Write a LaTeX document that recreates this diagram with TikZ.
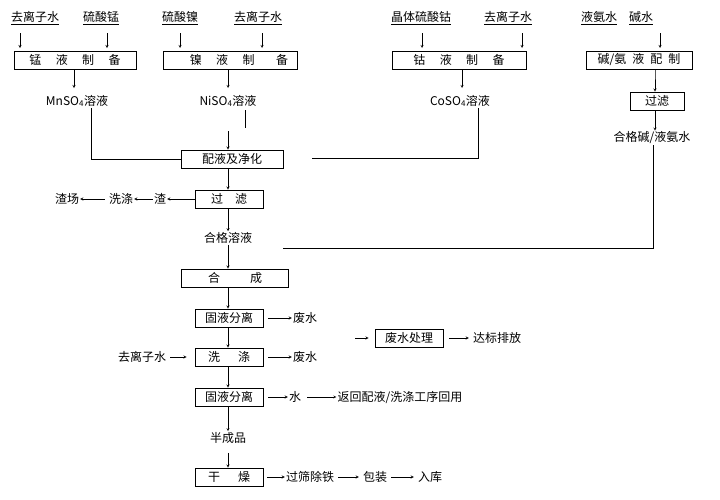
\documentclass[tikz,border=0pt]{standalone}
\usepackage{fontspec}
\setmainfont{Noto Sans CJK SC}
\usetikzlibrary{positioning}
\begin{document}
\begin{tikzpicture}[x=1pt,y=-1pt,->,>=stealth,thin,
	box node/.style={rectangle,draw,thick,minimum height=18pt,inner sep=1pt,font=\fontsize{12}{12}\selectfont},
	text node/.style={inner sep=1pt,font=\fontsize{12}{12}\selectfont},
	in node/.style={text node,underline},
	underline/.style={}]
\useasboundingbox (0,0) rectangle (720,499);

% inputs
\node[text node] (w1) at (35,18) {\underline{去离子水}};
\node[text node] (mns) at (101,18) {\underline{硫酸锰}};
\node[text node] (nis) at (180,18) {\underline{硫酸镍}};
\node[text node] (w2) at (258,18) {\underline{去离子水}};
\node[text node] (cos) at (421,18) {\underline{晶体硫酸钴}};
\node[text node] (w3) at (508,18) {\underline{去离子水}};
\node[text node] (nh) at (617,18) {\underline{液氨水}\hspace{12pt}\underline{碱水}};

% preparation
\node[box node,minimum width=122pt] (mn) at (75,60) {锰\hspace{1.2em}液\hspace{1.2em}制\hspace{1.2em}备};
\node[box node,minimum width=134pt] (ni) at (230,60) {\hspace{1.5em}镍\hspace{1.2em}液\hspace{1.2em}制\hspace{1.8em}备};
\node[box node,minimum width=134pt] (co) at (459,60) {钴\hspace{1.2em}液\hspace{1.2em}制\hspace{1.2em}备};
\node[box node,minimum width=106pt] (am) at (639,60) {碱/氨\hspace{0.5em}液\hspace{0.5em}配\hspace{0.5em}制};
\node[box node,minimum width=54pt] (af) at (657,101) {过滤};

\draw (20,33) -- (20,48);
\draw (107,33) -- (107,48);
\draw (180,33) -- (180,48);
\draw (262,33) -- (262,48);
\draw (422,33) -- (422,48);
\draw (522,33) -- (522,48);
\draw (660,33) -- (660,48);

\node[text node] (mnl) at (77,101) {MnSO\textsubscript{4}溶液};
\node[text node] (nil) at (228,101) {NiSO\textsubscript{4}溶液};
\node[text node] (col) at (460,101) {CoSO\textsubscript{4}溶液};
\node[text node] (aml) at (652,138) {合格碱/液氨水};

\draw (74,70) -- (74,88);
\draw (228,70) -- (228,88);
\draw (462,70) -- (462,88);
\draw (655,70) -- (am.south -| 655,0) -- (af.north -| 655,0);
\draw (af.south -| 655,0) -- (aml.north -| 655,0);

% mixing and filtering
\node[box node,minimum width=102pt] (mix) at (232,159) {配液及净化};
\node[box node,minimum width=68pt] (flt) at (229,199) {过\hspace{1em}滤};
\node[text node] (slag) at (160,199) {渣};
\node[text node] (wash) at (121,199) {洗涤};
\node[text node] (dump) at (67,199) {渣场};
\node[text node] (ok) at (228,238) {合格溶液};

\draw[-] (mnl.south -| 91,0) |- (mix.west);
\draw[-] (245,110) -- (245,128);
\draw (228,131) -- (mix.north -| 228,0);
\draw[-] (col.south -| 478,0) |- (312,158);
\draw (mix.south -| 228,0) -- (flt.north -| 228,0);
\draw (flt.west) -- (slag.east);
\draw (slag.west) -- (wash.east);
\draw (wash.west) ++(-3,0) -- (dump.east);
\draw (flt.south -| 228,0) -- (ok.north -| 228,0);
\draw[-] (aml.south -| 653,0) |- (283,248);

% synthesis
\node[box node,minimum width=107pt] (syn) at (235,278) {合\hspace{2.5em}成};
\node[box node,minimum width=68pt] (sep1) at (229,318) {固液分离};
\node[text node] (ww1) at (305,318) {废水};
\node[box node,minimum width=68pt] (wsh) at (229,357) {洗\hspace{1.5em}涤};
\node[text node] (w4) at (142,357) {去离子水};
\node[text node] (ww2) at (305,357) {废水};
\node[box node,minimum width=68pt] (tr) at (409,338) {废水处理};
\node[text node] (dis) at (497,338) {达标排放};
\node[box node,minimum width=68pt] (sep2) at (229,397) {固液分离};
\node[text node] (wat) at (295,397) {水};
\node[text node] (ret) at (400,397) {返回配液/洗涤工序回用};
\node[text node] (semi) at (228,438) {半成品};
\node[box node,minimum width=68pt] (dry) at (229,477) {干\hspace{1.5em}燥};
\node[text node] (fe) at (310,477) {过筛除铁};
\node[text node] (pk) at (375,477) {包装};
\node[text node] (st) at (430,477) {入库};

\draw (ok.south -| 228,0) -- (syn.north -| 228,0);
\draw (syn.south -| 228,0) -- (sep1.north -| 228,0);
\draw (sep1.east) ++(5,0) -- (ww1.west);
\draw (sep1.south -| 228,0) -- (wsh.north -| 228,0);
\draw (w4.east) ++(3,0) -- ([xshift=-8pt]wsh.west);
\draw (wsh.east) ++(5,0) -- (ww2.west);
\draw (355,338) -- ([xshift=-6pt]tr.west);
\draw (tr.east) ++(6,0) -- ([xshift=-3pt]dis.west);
\draw (wsh.south -| 228,0) -- (sep2.north -| 228,0);
\draw (sep2.east) ++(5,0) -- (wat.west);
\draw (wat.east) ++(5,0) -- (ret.west);
\draw (sep2.south -| 228,0) -- (semi.north -| 228,0);
\draw (semi.south -| 228,0) ++(0,8) -- (dry.north -| 228,0);
\draw (dry.east) ++(4,0) -- (fe.west);
\draw (fe.east) ++(3,0) -- ([xshift=-3pt]pk.west);
\draw (pk.east) ++(3,0) -- ([xshift=-3pt]st.west);
\end{tikzpicture}
\end{document}
